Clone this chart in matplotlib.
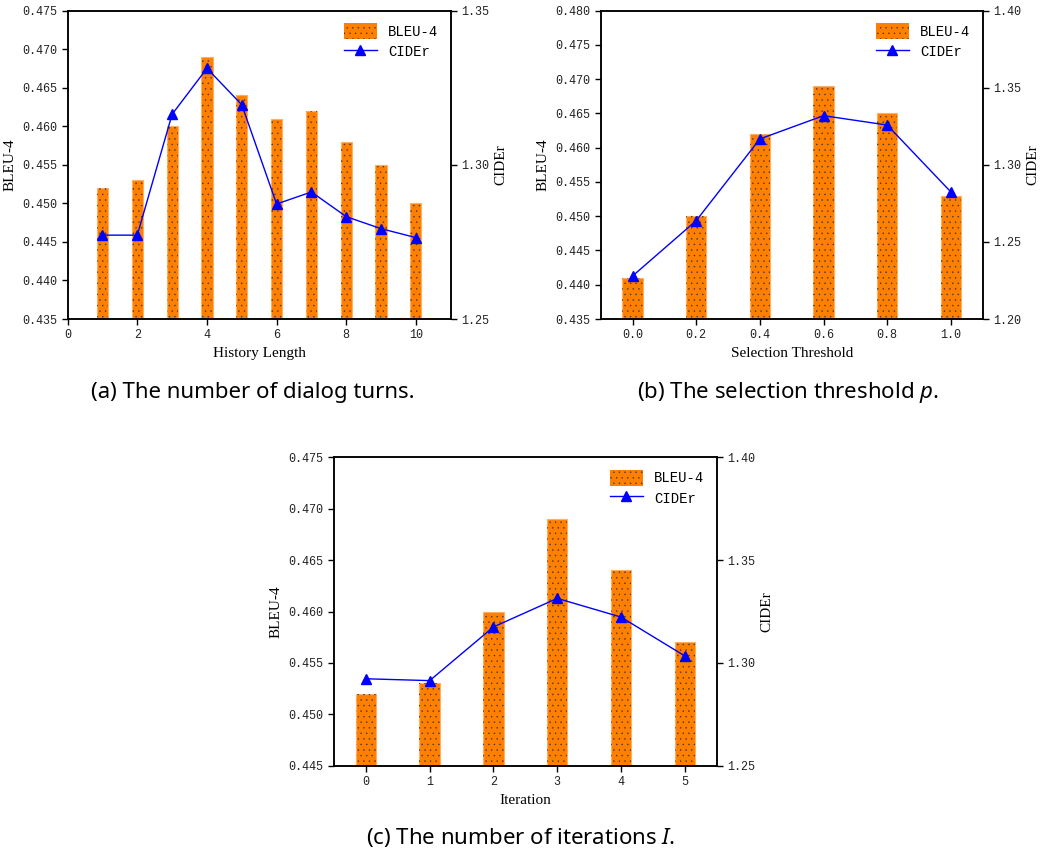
import matplotlib
matplotlib.use("Agg")
import matplotlib.pyplot as plt
from matplotlib.patches import Patch
import numpy as np

plt.rcParams['mathtext.fontset'] = 'custom'
plt.rcParams['mathtext.it'] = 'Noto Sans:italic'
plt.rcParams['mathtext.rm'] = 'Noto Sans'
plt.rcParams['hatch.linewidth'] = 0.25

# (a) history length
hist_x = [1, 2, 3, 4, 5, 6, 7, 8, 9, 10]
hist_bleu = [0.452, 0.453, 0.460, 0.469, 0.464, 0.461, 0.462, 0.458, 0.455, 0.450]
hist_cider = [1.2772, 1.2772, 1.3164, 1.3313, 1.3195, 1.2873, 1.2912, 1.2832, 1.2793, 1.2764]

# (b) selection threshold
thr_labels = ['0.0', '0.2', '0.4', '0.6', '0.8', '1.0']
thr_bleu = [0.441, 0.450, 0.462, 0.469, 0.465, 0.453]
thr_cider = [1.2279, 1.2638, 1.3168, 1.3319, 1.3258, 1.2824]

# (c) iterations
iter_labels = ['0', '1', '2', '3', '4', '5']
iter_bleu = [0.452, 0.453, 0.460, 0.469, 0.464, 0.457]
iter_cider = [1.2923, 1.2914, 1.3175, 1.3314, 1.3223, 1.3034]

ORANGE = '#FF7F00'
BLUE = '#0000FF'
MONO = 'Liberation Mono'
SERIF = 'Liberation Serif'
HATCH = '...'

fig = plt.figure(figsize=(10.44, 8.55), dpi=100)


def panel(rect, x, bleu, cider, xlabel, ylim, yticks, ylim2, yticks2,
          xlim, xticks, xticklabels):
    ax = fig.add_axes(rect)
    ax.bar(x, bleu, width=0.32, color=ORANGE, edgecolor='#FFB060', lw=0.8,
           zorder=2)
    # dots on top of the bars
    ax.bar(x, bleu, width=0.32, color='none', edgecolor='#333333',
           hatch=HATCH, lw=0, zorder=3)
    ax.set_ylim(*ylim)
    ax.set_yticks(yticks)
    ax.set_yticklabels(['%.3f' % v for v in yticks], fontfamily=MONO, fontsize=8.5,
                       color='#222222')
    ax.set_xlim(*xlim)
    ax.set_xticks(xticks)
    ax.set_xticklabels(xticklabels, fontfamily=MONO, fontsize=8.5, color='#222222')
    ax.set_xlabel(xlabel, fontfamily=SERIF, fontsize=11)
    ax.set_ylabel('BLEU-4', fontfamily=SERIF, fontsize=11)

    ax2 = ax.twinx()
    line, = ax2.plot(x, cider, color=BLUE, lw=1.0, marker='^', markersize=7,
                     zorder=4)
    ax2.set_ylim(*ylim2)
    ax2.set_yticks(yticks2)
    ax2.set_yticklabels(['%.2f' % v for v in yticks2], fontfamily=MONO, fontsize=8.5,
                        color='#222222')
    ax2.set_ylabel('CIDEr', fontfamily=SERIF, fontsize=11)
    for a in (ax, ax2):
        for s in a.spines.values():
            s.set_linewidth(1.1)
        a.tick_params(width=1.0, length=4)

    h = Patch(facecolor=ORANGE, edgecolor='#333333', hatch=HATCH, lw=0)
    ax2.legend([h, line], ['BLEU-4', 'CIDEr'], loc='upper right', frameon=False,
               prop={'family': MONO, 'size': 10}, handlelength=2.4,
               handleheight=1.4, borderaxespad=0.5, labelspacing=0.3)
    return ax


panel([0.0648, 0.6269, 0.3669, 0.3606], hist_x, hist_bleu, hist_cider,
      'History Length', (0.435, 0.475), np.arange(0.435, 0.4751, 0.005),
      (1.25, 1.35), [1.25, 1.30, 1.35], (0, 11), [0, 2, 4, 6, 8, 10],
      ['0', '2', '4', '6', '8', '10'])

xb = np.arange(len(thr_labels))
panel([0.5754, 0.6269, 0.3659, 0.3606], xb, thr_bleu, thr_cider,
      'Selection Threshold', (0.435, 0.480), np.arange(0.435, 0.4801, 0.005),
      (1.20, 1.40), [1.20, 1.25, 1.30, 1.35, 1.40], (-0.5, 5.5), xb, thr_labels)

xc = np.arange(len(iter_labels))
panel([0.3199, 0.1044, 0.3666, 0.3607], xc, iter_bleu, iter_cider,
      'Iteration', (0.445, 0.475), np.arange(0.445, 0.4751, 0.005),
      (1.25, 1.40), [1.25, 1.30, 1.35, 1.40], (-0.5, 5.5), xc, iter_labels)

cap = dict(family='Noto Sans', fontsize=16, ha='center', va='center')
fig.text(0.2424, 0.5415, '(a) The number of dialog turns.', **cap)
fig.text(0.7548, 0.5415, '(b) The selection threshold $p$.', **cap)
fig.text(0.499, 0.0199, '(c) The number of iterations $I$.', **cap)

fig.savefig('out.png', dpi=100)
